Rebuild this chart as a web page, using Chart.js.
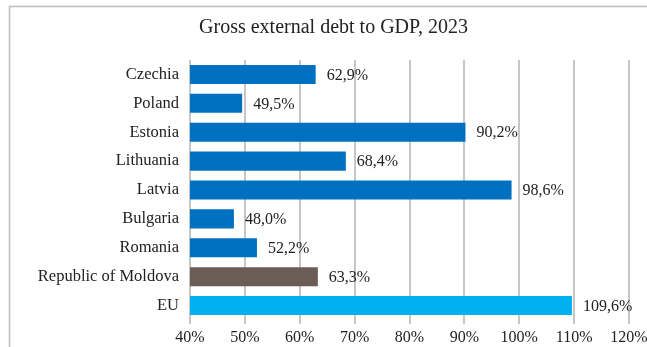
<!DOCTYPE html>
<html>
<head>
<meta charset="utf-8">
<script src="https://cdn.jsdelivr.net/npm/chart.js@4/dist/chart.umd.min.js"></script>
<style>
  html, body { margin: 0; padding: 0; background: #fff; overflow: hidden; }
  #wrap { position: relative; width: 667px; height: 347px; }
</style>
</head>
<body>
<div id="wrap"><canvas id="debtChart" width="667" height="347"></canvas></div>
<script>
const countries = ["Czechia", "Poland", "Estonia", "Lithuania", "Latvia", "Bulgaria", "Romania", "Republic of Moldova", "EU"];
const debtShare = [62.9, 49.5, 90.2, 68.4, 98.6, 48.0, 52.2, 63.3, 109.6];
const barColors = ["#0070C0", "#0070C0", "#0070C0", "#0070C0", "#0070C0", "#0070C0", "#0070C0", "#6B5D55", "#00B0F0"];
const chartTitle = "Gross external debt to GDP, 2023";

const serif = "'Liberation Serif', 'Times New Roman', serif";

// frame + title drawn behind the chart
const framePlugin = {
    id: "frame",
    beforeDraw(chart) {
        const ctx = chart.ctx;
        ctx.save();
        ctx.fillStyle = "#fff";
        ctx.fillRect(0, 0, chart.width, chart.height);
        ctx.strokeStyle = "#bdbdbd";
        ctx.lineWidth = 1.5;
        ctx.strokeRect(9.5, 6.5, chart.width + 20, chart.height + 20);
        ctx.fillStyle = "#222";
        ctx.font = "20px " + serif;
        ctx.textAlign = "center";
        ctx.textBaseline = "middle";
        ctx.fillText(chartTitle, chart.width / 2, 28);
        ctx.restore();
    }
};

// value labels right of each bar
const valueLabels = {
    id: "valueLabels",
    afterDatasetsDraw(chart) {
        const ctx = chart.ctx;
        const meta = chart.getDatasetMeta(0);
        ctx.save();
        ctx.fillStyle = "#222";
        ctx.font = "16px " + serif;
        ctx.textAlign = "left";
        ctx.textBaseline = "middle";
        meta.data.forEach((bar, i) => {
            const txt = debtShare[i].toFixed(1).replace(".", ",") + "%";
            ctx.fillText(txt, bar.x + 11, bar.y + 1);
        });
        ctx.restore();
    }
};

document.addEventListener("DOMContentLoaded", function () {
    const ctx = document.getElementById("debtChart").getContext("2d");
    new Chart(ctx, {
        type: "bar",
        data: {
            labels: countries,
            datasets: [
                {
                    data: debtShare,
                    backgroundColor: barColors,
                    borderWidth: 0,
                    barPercentage: 0.66,
                    categoryPercentage: 1,
                },
            ],
        },
        options: {
            indexAxis: "y",
            responsive: false,
            animation: false,
            layout: { padding: { top: 60, right: 38, left: 0, bottom: 0 } },
            plugins: {
                legend: { display: false },
                tooltip: { enabled: false },
            },
            scales: {
                x: {
                    min: 40,
                    max: 120,
                    ticks: {
                        stepSize: 10,
                        color: "#222",
                        padding: 4,
                        font: { family: serif, size: 16 },
                        callback: (v) => v + "%",
                    },
                    grid: { color: "#c6c6c6", lineWidth: 2, tickLength: 4 },
                    border: { display: false },
                    afterFit: (scale) => { scale.height = 27; },
                },
                y: {
                    ticks: {
                        color: "#222",
                        padding: 11,
                        font: { family: serif, size: 16.5 },
                    },
                    grid: { display: false, drawTicks: false },
                    border: { display: false },
                    afterFit: (scale) => { scale.width = 190; },
                },
            },
        },
        plugins: [framePlugin, valueLabels],
    });
});
</script>
</body>
</html>
